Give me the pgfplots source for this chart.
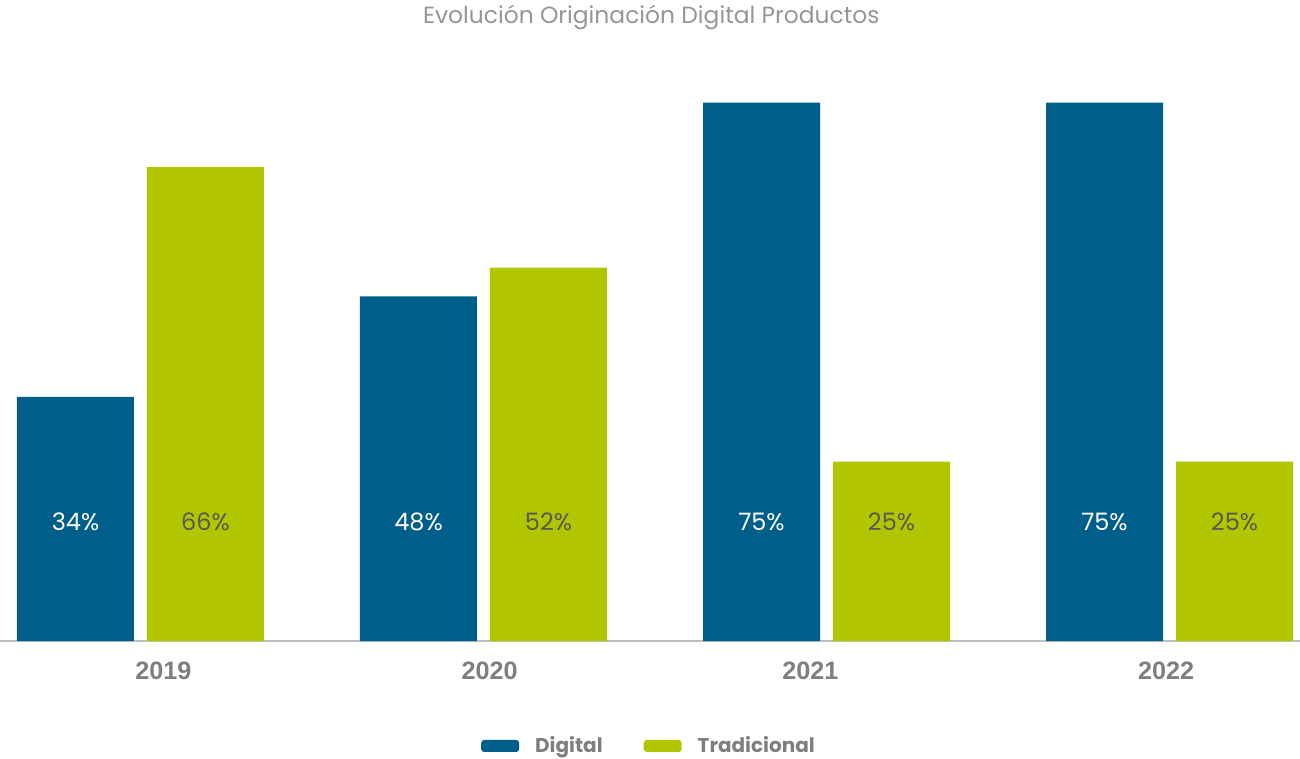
\documentclass[border=0pt]{standalone}
\usepackage{pgfplots}
\pgfplotsset{compat=1.18}
\usepackage{fontspec}
\setmainfont{Poppins}
\newfontfamily\catfont{Liberation Sans}
\definecolor{digi}{RGB}{0,94,138}
\definecolor{trad}{RGB}{178,198,0}
\definecolor{titlegray}{RGB}{150,150,150}
\definecolor{labgray}{RGB}{127,127,127}
\definecolor{darklab}{RGB}{89,89,89}
\definecolor{basegray}{RGB}{191,191,191}
\begin{document}
\begin{tikzpicture}
\begin{axis}[
  scale only axis, width=650pt, height=320.5pt,
  xmin=-0.4096, xmax=3.3805, ymin=0, ymax=89.3,
  axis y line=none, axis x line=bottom,
  x axis line style={-, draw=basegray, line width=1pt},
  xtick={0.067,1.018,1.953,2.990}, xticklabels={2019,2020,2021,2022},
  xtick style={draw=none},
  xticklabel style={anchor=center, yshift=-13pt, font=\catfont\bfseries\fontsize{12.6}{15}\selectfont, text=labgray},
  clip=false,
  legend style={at={(0.5,-0.1638)}, anchor=center, legend columns=2, draw=none, fill=none,
    font=\bfseries\fontsize{10}{12}\selectfont, text=labgray,
    /tikz/every even column/.append style={column sep=18.5pt}},
  legend cell align=left,
]
\addplot[ybar, bar width=58.5pt, bar shift=-32.5pt, fill=digi, draw=none,
  legend image code/.code={\fill[digi, draw=none, rounded corners=1.5pt] (0pt,-3pt) rectangle (19pt,3pt); \path[draw=none, fill=none] (0pt,0pt) rectangle (25pt,0.1pt);}]
  coordinates {(0,34) (1,48) (2,75) (3,75)};
\addlegendentry{Digital}
\addplot[ybar, bar width=58.5pt, bar shift=32.5pt, fill=trad, draw=none,
  legend image code/.code={\fill[trad, draw=none, rounded corners=1.5pt] (0pt,-3pt) rectangle (19pt,3pt); \path[draw=none, fill=none] (0pt,0pt) rectangle (25pt,0.1pt);}]
  coordinates {(0,66) (1,52) (2,25) (3,25)};
\addlegendentry{Tradicional}
\addplot[only marks, mark=none, forget plot, nodes near coords, point meta=explicit symbolic,
  every node near coord/.append style={anchor=center, xshift=-32.5pt, text=white, font=\fontsize{12}{14}\selectfont}]
  coordinates {(0,16.6) [34\%] (1,16.6) [48\%] (2,16.6) [75\%] (3,16.6) [75\%]};
\addplot[only marks, mark=none, forget plot, nodes near coords, point meta=explicit symbolic,
  every node near coord/.append style={anchor=center, xshift=32.5pt, text=darklab, font=\fontsize{12}{14}\selectfont}]
  coordinates {(0,16.6) [66\%] (1,16.6) [52\%] (2,16.6) [25\%] (3,16.6) [25\%]};
\node[font=\fontsize{11.7}{14}\selectfont, text=titlegray] at (axis description cs:0.501,0.973) {Evolución Originación Digital Productos};
\end{axis}
\pgfresetboundingbox
\path[use as bounding box] (0,-59pt) rectangle (650pt,320.5pt);
\end{tikzpicture}
\end{document}
